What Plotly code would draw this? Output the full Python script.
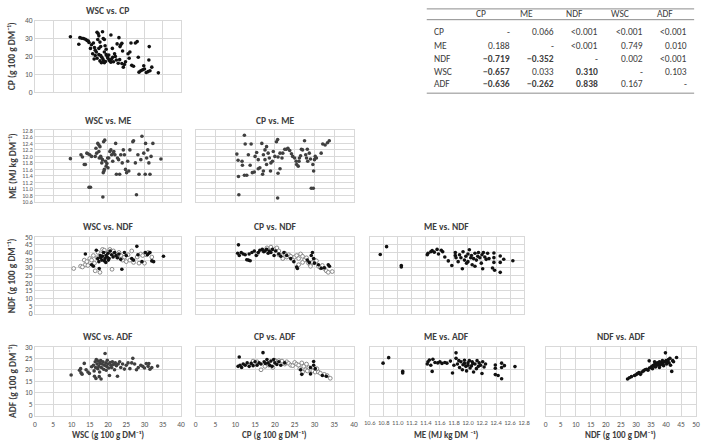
import plotly.graph_objects as go

W, H = 709, 445
FONT = "Carlito, Calibri, Lato, Liberation Sans, sans-serif"

# ---------------- data ----------------
wsc_cp = [(9.7,31),(12.3,30.5),(12.8,30.2),(13.3,30.0),(13.8,29.6),(14.2,29.0),(14.6,28.6),(12.0,26.8),(14.8,27.8),(15.2,24.5),
          (15.5,26.5),(15.8,21.5),(16.0,27.5),(16.3,25.0),(16.5,23.5),(16.5,20.5),(16.8,22.5),(16.2,18.6),(17.0,33.5),(17.3,32.8),
          (17.5,31.5),(17.2,29.5),(17.5,24.5),(17.5,21.0),(17.0,19.0),(17.8,28.0),(17.8,17.5),(18.0,25.5),(18.0,20.5),(18.2,16.5),
          (18.3,19.5),(18.5,33.8),(18.6,18.5),(18.7,30.0),(18.8,17.5),(19.0,29.5),(19.0,22.5),(19.0,16.5),(19.2,26.0),(19.3,17.2),
          (19.5,24.0),(19.5,21.0),(19.8,20.0),(20.0,19.0),(20.2,20.8),(20.3,18.0),(20.5,17.5),(20.8,16.8),(20.8,32.0),(21.0,18.5),
          (21.2,24.5),(21.3,19.5),(21.5,17.0),(21.8,21.5),(22.0,20.0),(22.3,18.0),(22.5,27.0),(22.8,16.2),(23.0,30.5),(23.2,18.2),
          (23.3,25.5),(23.5,26.5),(23.8,27.3),(23.8,16.0),(24.0,23.0),(24.2,14.0),(24.5,15.5),(24.8,17.0),(25.5,21.5),(25.8,19.0),
          (26.0,22.5),(26.3,27.5),(26.5,15.0),(27.0,14.5),(27.5,27.5),(28.0,28.3),(28.3,19.5),(28.5,11.2),(29.0,12.0),(29.5,12.5),
          (29.8,14.8),(30.0,13.0),(30.5,11.0),(31.0,11.5),(31.2,18.0),(31.3,25.5),(31.5,12.0),(32.0,14.0),(33.8,10.8)]

wsc_me = [(9.7,11.93),(12.6,12.05),(13.0,11.98),(13.5,11.75),(13.8,11.75),(14.5,12.08),(14.8,11.05),(15.2,11.05),(14.2,12.1),(15.0,12.05),
          (15.5,12.0),(16.5,12.0),(16.7,12.25),(16.9,12.1),(17.2,12.4),(17.5,12.35),(17.8,12.3),(17.5,12.15),(18.0,12.0),(18.3,11.8),
          (18.5,11.9),(18.7,11.5),(18.9,11.55),(19.0,11.6),(18.8,12.45),(19.1,12.5),(19.3,11.85),(19.5,11.7),(19.7,11.78),(19.9,11.95),
          (18.6,10.75),(20.2,11.95),(20.5,12.15),(20.8,12.2),(21.0,12.05),(21.3,11.85),(21.6,12.15),(21.9,12.05),(22.1,12.4),(22.3,11.45),
          (22.6,11.95),(22.9,11.9),(23.2,11.45),(23.5,12.05),(23.9,11.8),(24.2,12.2),(24.5,12.05),(24.8,11.6),(25.1,11.5),(25.4,11.85),
          (25.7,11.55),(26.0,12.2),(26.8,12.45),(27.0,12.48),(27.5,11.8),(27.8,10.82),(28.2,12.05),(28.5,11.45),(29.0,11.9),(29.3,12.62),
          (29.8,12.1),(30.2,11.45),(30.3,12.4),(30.6,11.95),(30.9,12.2),(31.2,11.8),(31.5,11.45),(31.8,12.0),(32.3,12.4),(34.5,11.92),
          (18.1,11.95),(20.0,11.65),(21.5,12.1),(17.6,11.95)]

cp_me = [(10.4,12.07),(10.7,11.88),(10.8,11.38),(10.9,10.82),(11.7,11.85),(11.8,11.73),(12.3,12.65),(12.5,12.38),(12.3,11.42),(12.9,11.42),
         (13.3,12.05),(13.75,11.73),(14.0,12.38),(14.3,11.5),(14.8,11.52),(15.0,12.0),(15.4,12.12),(15.8,11.9),(15.8,11.62),(16.2,11.65),
         (16.7,12.4),(17.1,12.05),(17.5,11.9),(17.9,11.75),(16.9,11.45),(17.1,11.55),(17.5,12.2),(17.9,12.3),(18.3,12.1),(18.6,11.95),
         (19.0,11.8),(18.9,11.55),(19.4,11.85),(19.6,12.15),(20.0,12.0),(20.4,12.45),(20.7,12.52),(20.8,11.98),(21.3,12.1),(20.7,10.72),
         (20.8,11.48),(21.3,11.62),(21.8,11.95),(22.0,12.1),(22.5,12.22),(22.9,12.22),(23.3,12.25),(23.75,12.18),(24.2,12.08),(24.5,12.0),
         (25.0,11.95),(25.4,11.85),(25.5,11.75),(25.9,11.7),(26.1,11.85),(26.5,12.02),(26.7,12.22),(27.0,12.2),(27.5,12.48),(27.8,12.05),
         (28.0,11.95),(28.3,11.85),(28.7,12.1),(29.0,11.92),(29.2,11.02),(29.7,11.02),(29.6,11.75),(29.8,11.55),(30.0,11.9),(30.2,12.0),
         (30.5,11.95),(31.7,12.1),(32.1,12.38),(32.7,12.35),(33.3,12.42),(33.75,12.48),(28.2,12.22),(26.2,11.95)]

wsc_ndf_a = [(13.8,39),(15.5,32),(16.0,31),(16.8,41.5),(17.2,36),(17.5,34),(17.6,29.5),(17.9,38),(18.0,36.5),(18.3,35),
             (18.5,37.5),(18.8,40),(19.0,34.5),(19.2,36),(19.5,38),(19.8,37),(20.0,39.5),(20.3,36),(20.6,41),(21.0,38.5),
             (21.4,37),(21.8,40),(22.2,38),(22.6,36.5),(23.0,39),(23.5,35.5),(23.8,29),(24.5,40),(25.0,38),(26.5,36),
             (27.0,35),(27.9,44),(28.2,38.5),(29.3,34),(30.2,40),(30.8,38.5),(31.2,39.5),(31.5,40),(32.0,34.5),(32.5,34),
             (35.2,37.5),(20.1,35),(19.4,33.5)]
wsc_ndf_b = [(10.6,29.5),(12.5,31),(13.0,30.5),(13.5,35),(13.8,32),(14.2,34),(14.5,31.5),(15.0,36),(15.5,35),(16.0,38),
             (16.3,33),(16.5,28),(17.0,36.5),(17.3,40),(17.8,27),(18.0,39),(18.5,42),(19.0,41.5),(19.5,39),(20.0,40),
             (20.5,42),(21.0,39.5),(21.1,29),(21.5,41),(22.0,38.5),(22.5,37),(23.0,40),(23.5,38),(24.0,35),(24.5,37),
             (25.0,34),(25.5,38.5),(26.0,35),(26.5,41),(27.0,33.5),(28.0,37),(28.5,33),(29.0,39),(29.5,38),(30.0,33),
             (30.5,38.5),(31.0,40),(32.0,37)]

cp_ndf_a = [(10.8,45),(10.6,39.5),(11.0,38),(11.5,40),(12.0,39),(12.5,38.5),(12.9,35.2),(13.3,35),(13.75,34.6),(13.5,39),
            (14.2,40),(14.8,41),(15.3,38),(15.8,40),(16.2,41.5),(16.8,42),(17.2,40.5),(17.5,41),(17.9,42),(18.3,39.5),
            (18.6,41),(19.0,40),(19.4,42),(19.8,38),(20.2,41),(21.0,39),(21.5,37.5),(22.3,40),(23.0,38),(24.0,36),
            (24.8,34),(25.5,30.5),(25.7,29.5),(28.2,35),(28.7,33.5),(29.2,38),(29.5,40),(29.8,36),(30.0,33),(31.0,32),
            (31.7,29.7),(32.5,30),(33.5,32),(33.8,31)]
cp_ndf_b = [(15.5,39),(17.0,41.5),(18.0,43),(19.0,43.5),(20.0,42),(20.5,43),(21.0,41),(21.8,38),(22.5,39.5),(23.0,37),
            (23.5,38.5),(24.0,37.5),(24.5,35.5),(25.0,37),(25.5,38),(26.0,36),(26.5,39),(27.0,37.5),(27.5,35),(28.0,36.5),
            (28.5,33),(29.0,32),(29.5,33.5),(30.0,35),(30.5,34.5),(31.0,31),(31.5,30),(32.0,31.5),(32.5,29.5),(33.0,28),
            (33.5,27),(34.5,27.5),(26.0,32),(27.0,33.5),(29.0,31),(22.0,36),(21.0,38.5)]

me_ndf = [(10.75,38.7),(10.84,43.8),(11.05,31.5),(11.05,30.5),(11.42,38.5),(11.43,39.5),(11.47,40.5),(11.49,41.2),(11.52,40.2),(11.56,42),
          (11.58,39),(11.62,41.5),(11.64,40.5),(11.67,37),(11.72,34.5),(11.77,31.5),(11.82,40),(11.82,38),(11.83,36.5),(11.86,34),
          (11.88,38.5),(11.9,36.5),(11.92,29.4),(11.93,40.5),(11.95,35),(11.97,37.5),(12.0,34),(12.0,39),(12.02,41.8),(12.05,38),
          (12.06,32),(12.08,36),(12.1,39.5),(12.1,31),(12.12,35),(12.14,37.5),(12.15,40),(12.17,36.5),(12.19,33),(12.2,38.5),
          (12.21,29.4),(12.22,40),(12.24,37),(12.26,35.5),(12.28,39.5),(12.3,36),(12.35,29.8),(12.37,39.7),(12.37,36.6),(12.37,33.5),
          (12.38,28.4),(12.46,37.7),(12.46,33.5),(12.46,27.0),(12.51,35.6),(12.64,34.6),(11.98,33),(12.04,36.5)]

wsc_adf = [(9.9,17.7),(12.2,19.8),(12.5,20.5),(12.6,18.7),(12.9,18.1),(13.5,22.8),(14.0,20),(14.5,19),(14.9,18.4),(15.5,21.3),
           (16.0,22),(16.2,19.5),(16.3,17.2),(16.5,23.5),(16.6,21),(16.7,16.2),(16.8,24.5),(17.0,22.5),(17.2,20.5),(17.3,23.8),
           (17.5,21.5),(17.6,17.0),(17.8,22.8),(18.0,24),(18.1,16.0),(18.2,21),(18.4,22.5),(18.6,23.5),(18.8,20.2),(19.0,22),
           (19.2,27.1),(19.4,23),(19.6,21.5),(19.8,24.2),(20.0,22.5),(20.2,20.8),(20.4,17.5),(20.6,23.2),(20.8,22),(21.0,21),
           (21.2,23.5),(21.5,22.3),(21.8,20),(22.0,23),(22.3,21.8),(22.6,17.2),(22.8,22.5),(23.2,23.5),(23.5,21),(24.0,22.5),
           (24.5,20.3),(25.0,22),(25.5,23),(26.0,20.5),(26.5,23),(26.8,25),(27.3,22.5),(27.8,20),(28.3,21),(29.0,22),
           (29.5,21.5),(30.0,20.8),(30.5,22.7),(31.0,21.5),(31.5,20.2),(32.0,21),(33.6,21.6),(31.2,22.7),(19.5,19.8),(17.7,19.0)]

cp_adf_a = [(11.0,25.6),(10.7,21.5),(11.2,22),(11.6,21),(12.0,22.5),(12.5,22),(13.0,23),(13.5,21.5),(14.0,22.8),(14.5,21.8),
            (15.0,23.5),(15.5,22),(16.0,23),(16.5,22.5),(17.0,27.5),(17.3,23.5),(17.6,22.8),(18.0,24.5),(18.3,23),(18.7,22),
            (19.0,23.8),(19.3,21.5),(19.7,24.5),(20.0,23),(20.5,22.3),(21.0,23.5),(21.5,22),(22.5,23),(26.5,20),(26.8,18),
            (29.0,21),(29.0,18.2),(29.8,23.6),(29.8,22),(30.2,20.5),(32.0,17.5),(33.0,17.2)]
cp_adf_b = [(14.5,23.8),(15.5,23.5),(16.5,20),(17.5,21.5),(18.5,22),(19.5,21),(20.0,24.2),(21.0,24),(21.8,23.8),(22.5,22.5),
            (23.0,23.5),(23.5,22.8),(24.0,22),(24.5,21.8),(25.0,23.2),(25.5,22.5),(26.0,22),(26.3,20.5),(26.8,23),(27.3,21.5),
            (27.8,20),(28.2,19.5),(28.6,21),(29.2,19.8),(29.6,19.5),(30.2,19),(30.6,20.5),(31.0,19),(31.5,18.5),(32.5,18),
            (33.2,17.5),(34.0,16.3),(27.0,19),(28.0,22.5)]

me_adf = [(10.79,22.9),(10.87,25.3),(11.07,19.3),(11.07,18.6),(11.42,22.5),(11.43,23.5),(11.45,24.3),(11.47,22),(11.49,19.3),(11.5,24.6),
          (11.53,23.2),(11.57,23),(11.6,23.5),(11.63,22.8),(11.67,23.2),(11.7,22.9),(11.75,23.8),(11.78,18.6),(11.8,22),(11.83,27.4),
          (11.83,25.0),(11.85,22.5),(11.87,24),(11.88,21),(11.9,23.5),(11.92,20),(11.93,22.2),(11.95,24.2),(11.97,21.5),(11.98,19.5),
          (12.0,23),(12.0,22),(12.02,24),(12.03,20.8),(12.05,21.7),(12.06,23.5),(12.08,19),(12.1,22.5),(12.12,20.5),(12.13,24),
          (12.15,21.5),(12.16,23),(12.18,22),(12.2,18.4),(12.21,23.5),(12.23,21.2),(12.25,22.5),(12.39,22.1),(12.39,20.7),(12.39,17.9),
          (12.43,17.5),(12.48,16.1),(12.48,22.9),(12.48,21),(12.52,21.8),(12.67,21.4),(11.95,22.8),(12.07,22.8)]

ndf_adf = [(27.2,16.0),(27.8,16.5),(28.5,17.0),(29.5,17.5),(30.0,17.8),(30.5,18.3),(31.0,18.8),(31.5,18.0),(32.0,19.0),(32.5,19.5),
           (33.0,20.0),(33.5,20.2),(34.0,19.8),(34.4,23.9),(34.5,20.8),(35.0,21.0),(35.3,21.5),(35.5,20.5),(35.8,22.0),(36.0,21.8),
           (36.3,22.5),(36.5,21.2),(36.8,22.8),(37.0,22.0),(37.2,23.0),(37.5,22.3),(37.8,23.5),(38.0,22.0),(38.2,23.2),(38.5,22.6),
           (38.8,24.0),(39.0,23.0),(39.2,21.8),(39.5,23.5),(39.8,27.4),(40.0,24.0),(40.2,22.5),(40.5,23.3),(40.8,24.5),(41.0,23.0),
           (41.3,25.0),(41.5,22.0),(41.9,19.3),(42.2,24.0),(42.5,23.5),(43.5,25.4),(36.2,23.5),(37.8,21.0)]

table_cols = ["CP", "ME", "NDF", "WSC", "ADF"]
table_rows = ["CP", "ME", "NDF", "WSC", "ADF"]
table_vals = [["-", "0.066", "<0.001", "<0.001", "<0.001"],
              ["0.188", "-", "<0.001", "0.749", "0.010"],
              ["\u22120.719", "\u22120.352", "-", "0.002", "<0.001"],
              ["\u22120.657", "0.033", "0.310", "-", "0.103"],
              ["\u22120.636", "\u22120.262", "0.838", "0.167", "-"]]
table_bold = [[0,0,0,0,0],[0,0,0,0,0],[1,1,0,0,0],[1,0,1,0,0],[1,1,1,0,0]]

# ---------------- layout helpers ----------------
def px(x): return x / W
def py(y): return 1 - y / H

col_px = {"WSC": (29.5, 178), "CP": (193, 354), "ME": (370, 527), "NDF": (549, 702)}
row_px = {"CP": (17, 90), "ME": (129, 202), "NDF": (238, 316), "ADF": (350, 420)}
rng = {"WSC": ([0, 40], 5, [0, 40], 10), "CP": ([0, 40], 5, [0, 40], 10),
       "ME": ([10.6, 12.8], 0.2, [10.6, 12.8], 0.2), "NDF": ([0, 50], 5, [0, 50], 5),
       "ADF": (None, None, [0, 30], 5)}
ylab = {"CP": "CP (g 100 g DM\u207b\u00b9)", "ME": "ME (MJ kg DM\u207b\u00b9)",
        "NDF": "NDF (g 100 g DM\u207b\u00b9)", "ADF": "ADF (g 100 g DM\u207b\u00b9)"}
xlab = {"WSC": "WSC (g 100 g DM\u207b\u00b9)", "CP": "CP (g 100 g DM\u207b\u00b9)",
        "ME": "ME (MJ kg DM \u207b\u00b9)", "NDF": "NDF (g 100 g DM\u207b\u00b9)"}

panels = [("WSC", "CP", [wsc_cp], None),
          ("WSC", "ME", [wsc_me], None),
          ("CP", "ME", [cp_me], None),
          ("WSC", "NDF", [wsc_ndf_b, wsc_ndf_a], "two"),
          ("CP", "NDF", [cp_ndf_b, cp_ndf_a], "two"),
          ("ME", "NDF", [me_ndf], None),
          ("WSC", "ADF", [wsc_adf], None),
          ("CP", "ADF", [cp_adf_b, cp_adf_a], "two"),
          ("ME", "ADF", [me_adf], None),
          ("NDF", "ADF", [ndf_adf], None)]

fig = go.Figure()
layout = {}
annotations = []
GRID = "#d9d9d9"
TXT = "#404040"

def ann(text, x, y, size, xanchor="center", angle=0, bold=False, color=TXT):
    return dict(text=f"<b>{text}</b>" if bold else text, x=px(x), y=py(y),
                xref="paper", yref="paper", xanchor=xanchor, yanchor="middle",
                showarrow=False, textangle=angle,
                font=dict(family=FONT, size=size, color=color))

for i, (xv, yv, series, kind) in enumerate(panels, start=1):
    xa = "x" if i == 1 else f"x{i}"
    ya = "y" if i == 1 else f"y{i}"
    xr, xd, _, _ = rng[xv]
    _, _, yr, yd = rng[yv]
    x0, x1 = col_px[xv]
    y0, y1 = row_px[yv]
    bottom = (yv == "ADF")
    left = (xv == "WSC")
    layout["xaxis" if i == 1 else f"xaxis{i}"] = dict(
        domain=[px(x0), px(x1)], range=xr, dtick=xd, tick0=xr[0], anchor=ya,
        showgrid=True, gridcolor=GRID, gridwidth=1, zeroline=False,
        showline=True, linecolor=GRID, mirror=True, ticks="",
        showticklabels=bottom, tickangle=0, ticklabelstandoff=1,
        tickfont=dict(family=FONT, size=6.5 if xv == "ME" else 7.5, color="#595959"),
        tickformat=".1f" if xv == "ME" else None, fixedrange=True)
    layout["yaxis" if i == 1 else f"yaxis{i}"] = dict(
        domain=[py(y1), py(y0)], range=yr, dtick=yd, tick0=yr[0], anchor=xa,
        showgrid=True, gridcolor=GRID, gridwidth=1, zeroline=False,
        showline=True, linecolor=GRID, mirror=True, ticks="",
        showticklabels=left,
        tickfont=dict(family=FONT, size=6 if yv == "ME" else 7.5, color="#595959"),
        tickformat=".1f" if yv == "ME" else None, fixedrange=True)
    for k, s in enumerate(series):
        xs = [p[0] for p in s]
        ys = [p[1] for p in s]
        if kind == "two" and k == 0:
            marker = dict(size=3.8, color="white", line=dict(color="#7f7f7f", width=0.9))
        else:
            col = "#404040" if (yv == "ME" or (xv == "WSC" and yv == "ADF")) else "#111111"
            marker = dict(size=3.6, color=col, line=dict(width=0))
        fig.add_trace(go.Scatter(x=xs, y=ys, mode="markers", marker=marker,
                                 xaxis=xa, yaxis=ya, showlegend=False, hoverinfo="skip",
                                 cliponaxis=False))
    annotations.append(ann(f"{xv} vs. {yv}", (x0 + x1) / 2, y0 - 10, 9.5, bold=True))
    if bottom:
        annotations.append(ann(xlab[xv], (x0 + x1) / 2, 439.5, 9, bold=True))
    if left:
        annotations.append(ann(ylab[yv], 7, (y0 + y1) / 2, 9.5, angle=-90, bold=True))

# ---------------- table ----------------
shapes = []
for yl in (5, 16, 91):
    shapes.append(dict(type="line", xref="paper", yref="paper", x0=px(428), x1=px(700),
                       y0=py(yl), y1=py(yl), line=dict(color="#8c8c8c", width=1)))
head_x = [476, 521, 568, 613, 660]
val_x = [515, 559, 604, 650, 695]
row_y = [29, 43, 56, 69, 82]
for j, c in enumerate(table_cols):
    annotations.append(ann(c, head_x[j], 10.5, 9.5, xanchor="left"))
for r, rname in enumerate(table_rows):
    annotations.append(ann(rname, 433, row_y[r], 9.5, xanchor="left"))
    for j in range(5):
        t = table_vals[r][j].replace("<", "&lt;")
        annotations.append(ann(t, val_x[j], row_y[r], 9.5, xanchor="right",
                               bold=bool(table_bold[r][j])))

fig.update_layout(width=W, height=H, margin=dict(l=0, r=0, t=0, b=0),
                  paper_bgcolor="white", plot_bgcolor="white",
                  annotations=annotations, shapes=shapes, **layout)
fig.write_html("out.html", config={"displayModeBar": False, "staticPlot": True},
               post_script="document.body.style.margin='0';document.body.style.overflow='hidden';")
